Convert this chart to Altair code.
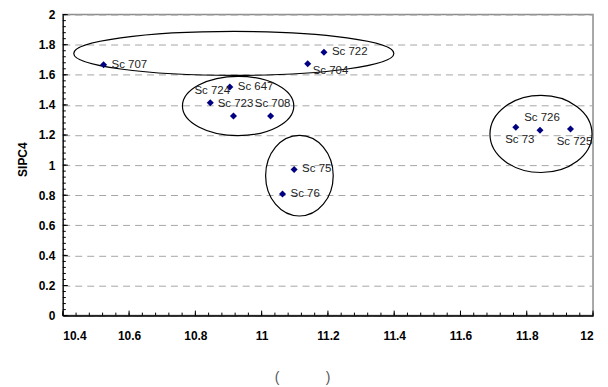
import altair as alt
import pandas as pd

# ---- data ----
names = ["Sc 707", "Sc 724", "Sc 647", "Sc 723", "Sc 708", "Sc 75",
         "Sc 76", "Sc 722", "Sc 704", "Sc 73", "Sc 726", "Sc 725"]
x_vals = [10.523, 10.845, 10.904, 10.915, 11.027, 11.098,
          11.063, 11.188, 11.139, 11.767, 11.840, 11.932]
y_vals = [1.667, 1.415, 1.519, 1.327, 1.327, 0.971,
          0.808, 1.750, 1.673, 1.252, 1.232, 1.240]
label_side = ["right", "above", "right", "above", "above", "right",
              "right", "right", "belowright", "below", "above", "below"]

# group ellipses (centre and radii in data units)
ell_x = [10.916, 10.929, 11.114, 11.843]
ell_y = [1.742, 1.393, 0.930, 1.207]
ell_rx = [0.483, 0.168, 0.102, 0.154]
ell_ry = [0.146, 0.197, 0.268, 0.256]

x_major = [10.4, 10.6, 10.8, 11.0, 11.2, 11.4, 11.6, 11.8, 12.0]
y_major = [0, 0.2, 0.4, 0.6, 0.8, 1.0, 1.2, 1.4, 1.6, 1.8, 2.0]
minor_step = 0.04
x_minor = [round(10.4 + minor_step * i, 2) for i in range(41)]
y_minor = [round(minor_step * i, 2) for i in range(51)]

W, H = 532, 302
XMIN, XMAX, YMIN, YMAX = 10.4, 12.0, 0.0, 2.0
FONT = "Liberation Sans"

xs = alt.Scale(domain=[XMIN, XMAX], nice=False, zero=False)
ys = alt.Scale(domain=[YMIN, YMAX], nice=False, zero=False)

X_AXIS = alt.Axis(
    values=x_major, format="~g", ticks=False, grid=False,
    domainColor="black", domainWidth=1.5,
    labelFont=FONT, labelFontWeight="bold", labelFontSize=12,
    labelColor="black", labelPadding=15,
    title="(" + "\u00a0" * 12 + ")", titleFont=FONT, titleFontWeight="normal",
    titleFontSize=14, titleColor="#555555", titleX=240, titleY=55,
    titleAlign="center", titleBaseline="top")
Y_AXIS = alt.Axis(
    values=y_major, format="~g", ticks=False, grid=True,
    gridDash=[7, 5], gridColor="#a6a6a6", gridWidth=1,
    domainColor="black", domainWidth=1,
    labelFont=FONT, labelFontWeight="bold", labelFontSize=12,
    labelColor="black", labelPadding=8,
    title="SIPC4", titleFont=FONT, titleFontWeight="bold",
    titleFontSize=12, titleColor="black", titleX=-40, titleY=145,
    titleAlign="center", titleBaseline="middle")

pts = pd.DataFrame({"x": x_vals, "y": y_vals, "name": names, "side": label_side})

points = alt.Chart(pts).mark_point(
    shape="diamond", filled=True, color="#000080", size=50, opacity=1
).encode(
    x=alt.X("x:Q", scale=xs, axis=X_AXIS),
    y=alt.Y("y:Q", scale=ys, axis=Y_AXIS),
)

def text_layer(side, align, dx, dy):
    return alt.Chart(pts).transform_filter(
        alt.datum.side == side
    ).mark_text(align=align, baseline="middle", dx=dx, dy=dy,
                font=FONT, fontSize=11.5, color="#222222").encode(
        x=alt.X("x:Q", scale=xs, axis=X_AXIS),
        y=alt.Y("y:Q", scale=ys, axis=Y_AXIS),
        text="name:N",
    )

labels = [
    text_layer("right", "left", 8, 0),
    text_layer("above", "center", 2, -12),
    text_layer("below", "center", 4, 13),
    text_layer("belowright", "left", 5, 7),
]

# ellipses as custom symbols
k = 0.5523
ellipses = []
for cx, cy, rx, ry in zip(ell_x, ell_y, ell_rx, ell_ry):
    a = rx * W / (XMAX - XMIN)
    b = ry * H / (YMAX - YMIN)
    r = b / a
    path = (f"M -1 0 C -1 {-k*r:.4f} {-k:.4f} {-r:.4f} 0 {-r:.4f} "
            f"C {k:.4f} {-r:.4f} 1 {-k*r:.4f} 1 0 "
            f"C 1 {k*r:.4f} {k:.4f} {r:.4f} 0 {r:.4f} "
            f"C {-k:.4f} {r:.4f} -1 {k*r:.4f} -1 0 Z")
    ellipses.append(
        alt.Chart(pd.DataFrame({"x": [cx], "y": [cy]})).mark_point(
            shape=path, size=(2 * a) ** 2, filled=False, stroke="black",
            strokeWidth=1.2, opacity=1
        ).encode(x=alt.X("x:Q", scale=xs, axis=X_AXIS),
                 y=alt.Y("y:Q", scale=ys, axis=Y_AXIS))
    )

def xticks(vals, length):
    return alt.Chart(pd.DataFrame({"x": vals})).mark_rule(
        color="black", strokeWidth=1).encode(
        x=alt.X("x:Q", scale=xs, axis=X_AXIS),
        y=alt.value(H), y2=alt.value(H - length))

def yticks(vals, length):
    return alt.Chart(pd.DataFrame({"y": vals})).mark_rule(
        color="black", strokeWidth=1).encode(
        y=alt.Y("y:Q", scale=ys, axis=Y_AXIS),
        x=alt.value(0), x2=alt.value(length))

chart = alt.layer(
    *ellipses,
    xticks(x_minor, 3), xticks(x_major, 5),
    yticks(y_minor, 3), yticks(y_major, 5),
    points,
    *labels,
).properties(
    width=W, height=H,
    autosize=alt.AutoSizeParams(type="none"),
    padding={"left": 55, "top": 6, "right": 7, "bottom": 72},
    background="white",
).configure_view(stroke="#8c8c8c", strokeWidth=1.5)

chart.save("out.html", embed_options={"renderer": "svg", "actions": False})
